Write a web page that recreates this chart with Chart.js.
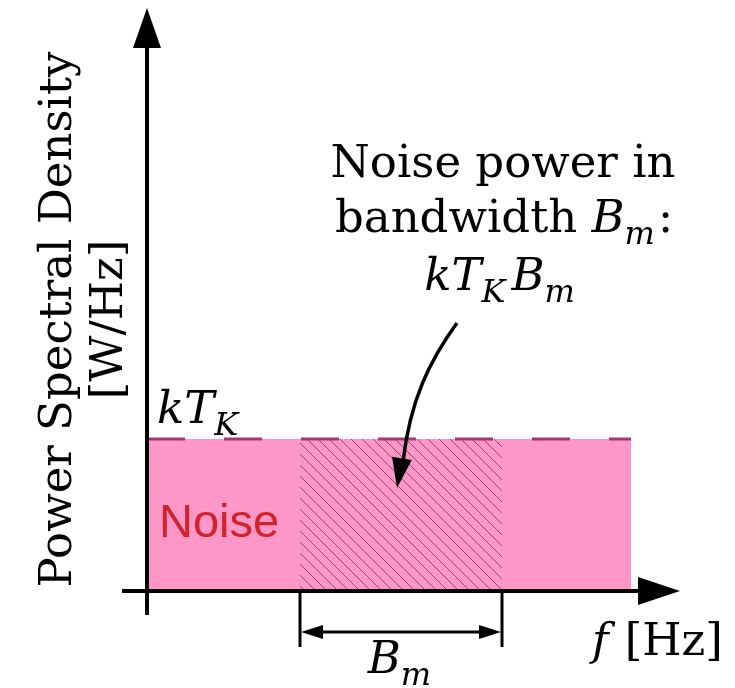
<!DOCTYPE html>
<html>
<head>
<meta charset="utf-8">
<script src="https://cdn.jsdelivr.net/npm/chart.js@4/dist/chart.umd.min.js"></script>
<style>html,body{margin:0;padding:0;background:#fff}canvas{display:block}</style>
</head>
<body>
<canvas id="noiseChart" width="735" height="688"></canvas>
<script>
// frequency / PSD in arbitrary units (schematic)
var noiseFreq = [0, 9.68];
var noiseLevel = [3.17, 3.17];   // kT_K
var bandFreq = [3.06, 7.1];      // edges of B_m
var bandLevel = [3.17, 3.17];
var xRange = [-0.5, 10.66];
var yRange = [-0.5, 12.15];

var serif = '"DejaVu Serif", "Liberation Serif", serif';

function toPoints(xs, ys) {
    var pts = [];
    for (var i = 0; i < xs.length; i++) pts.push({x: xs[i], y: ys[i]});
    return pts;
}

function hatchPattern() {
    var c = document.createElement('canvas');
    c.width = 11; c.height = 11;
    var g = c.getContext('2d');
    g.strokeStyle = '#9a3a68';
    g.lineWidth = 0.9;
    g.beginPath();
    g.moveTo(-1, -1); g.lineTo(12, 12);
    g.moveTo(-1, 10); g.lineTo(1, 12);
    g.moveTo(10, -1); g.lineTo(12, 1);
    g.stroke();
    return g.createPattern(c, 'repeat');
}

// draw a run of text pieces (italic / subscript) starting at x
function mathRun(ctx, parts, x, y, size, align) {
    var w = 0, i, p;
    for (i = 0; i < parts.length; i++) {
        p = parts[i];
        ctx.font = (p.it ? 'italic ' : '') + Math.round(size * (p.s || 1)) + 'px ' + serif;
        w += ctx.measureText(p.t).width + (p.gap || 0);
    }
    if (align == 'center') x -= w / 2;
    ctx.textAlign = 'left';
    for (i = 0; i < parts.length; i++) {
        p = parts[i];
        ctx.font = (p.it ? 'italic ' : '') + Math.round(size * (p.s || 1)) + 'px ' + serif;
        ctx.fillText(p.t, x, y + (p.dy || 0) * size);
        x += ctx.measureText(p.t).width + (p.gap || 0);
    }
}

function arrowHead(ctx, tx, ty, ang, len, half) {
    ctx.beginPath();
    ctx.moveTo(tx, ty);
    ctx.lineTo(tx - len * Math.cos(ang) + half * Math.sin(ang), ty - len * Math.sin(ang) - half * Math.cos(ang));
    ctx.lineTo(tx - len * Math.cos(ang) - half * Math.sin(ang), ty - len * Math.sin(ang) + half * Math.cos(ang));
    ctx.closePath();
    ctx.fill();
}

var sketchPlugin = {
    id: 'sketch',
    afterDraw: function(chart) {
        var ctx = chart.ctx, xs = chart.scales.x, ys = chart.scales.y;
        var X = function(v) { return xs.getPixelForValue(v); };
        var Y = function(v) { return ys.getPixelForValue(v); };
        var x0 = X(0), y0 = Y(0);
        var xTip = X(xRange[1]), yTip = Y(yRange[1]);
        ctx.save();
        ctx.fillStyle = '#000';
        ctx.strokeStyle = '#000';

        // axes
        ctx.lineWidth = 4;
        ctx.beginPath();
        ctx.moveTo(x0, Y(yRange[0])); ctx.lineTo(x0, yTip + 30);
        ctx.moveTo(X(xRange[0]), y0); ctx.lineTo(xTip - 30, y0);
        ctx.stroke();
        arrowHead(ctx, x0, yTip, -Math.PI / 2, 40, 14);
        arrowHead(ctx, xTip, y0, 0, 42, 14);

        // bandwidth dimension
        var b0 = X(bandFreq[0]), b1 = X(bandFreq[1]);
        ctx.lineWidth = 3;
        ctx.beginPath();
        ctx.moveTo(b0, y0 + 2); ctx.lineTo(b0, y0 + 56);
        ctx.moveTo(b1, y0 + 2); ctx.lineTo(b1, y0 + 56);
        ctx.moveTo(b0 + 10, y0 + 41); ctx.lineTo(b1 - 10, y0 + 41);
        ctx.stroke();
        arrowHead(ctx, b0 + 1, y0 + 41, Math.PI, 22, 7);
        arrowHead(ctx, b1 - 1, y0 + 41, 0, 22, 7);

        ctx.textBaseline = 'alphabetic';
        var sz = 45;
        var sub = function(t) { return {t: t, it: true, s: 0.72, dy: 0.26, gap: 3}; };
        mathRun(ctx, [{t: 'B', it: true}, sub('m')], (b0 + b1) / 2, y0 + 82, sz, 'center');
        mathRun(ctx, [{t: 'f', it: true, gap: 16}, {t: '[Hz]'}], 592, y0 + 64, sz);

        // kT_K level label
        mathRun(ctx, [{t: 'kT', it: true}, sub('K')], 157, Y(noiseLevel[0]) - 16, sz);

        // Noise label
        ctx.fillStyle = '#d3222c';
        ctx.font = '47px "Liberation Sans", Arial, sans-serif';
        ctx.textAlign = 'left';
        ctx.fillText('Noise', 159, 537);

        // annotation
        ctx.fillStyle = '#000';
        mathRun(ctx, [{t: 'Noise power in'}], 503, 177, sz, 'center');
        mathRun(ctx, [{t: 'bandwidth '}, {t: 'B', it: true}, sub('m'), {t: ':'}], 335, 232, sz);
        mathRun(ctx, [{t: 'kT', it: true}, {t: 'K', it: true, s: 0.72, dy: 0.26, gap: 6}, {t: 'B', it: true}, sub('m')], 501, 290, sz, 'center');

        // curved arrow
        ctx.lineWidth = 3.5;
        ctx.beginPath();
        ctx.moveTo(457, 323);
        ctx.bezierCurveTo(430, 360, 410, 400, 403, 462);
        ctx.stroke();
        arrowHead(ctx, 397, 488, Math.atan2(488 - 440, 397 - 405), 30, 10);

        // y-axis title
        ctx.save();
        ctx.translate(71, (Y(yRange[1]) + y0) / 2 + 20);
        ctx.rotate(-Math.PI / 2);
        ctx.textAlign = 'center';
        ctx.font = sz + 'px ' + serif;
        ctx.fillText('Power Spectral Density', 0, 0);
        ctx.translate(0, 51);
        ctx.fillText('[W/Hz]', 0, 0);
        ctx.restore();

        ctx.restore();
    }
};

var canvas = document.getElementById('noiseChart');
var myChart = new Chart(canvas, {
    type: 'line',
    data: {
        datasets: [
            {
                label: 'kT_K',
                data: toPoints(noiseFreq, noiseLevel),
                borderColor: '#a3386f',
                borderWidth: 3,
                borderDash: [38, 39],
                borderCapStyle: 'butt',
                pointRadius: 0,
                fill: false,
                order: 0
            },
            {
                label: 'B_m',
                data: toPoints(bandFreq, bandLevel),
                backgroundColor: hatchPattern(),
                borderWidth: 0,
                pointRadius: 0,
                fill: 'origin',
                order: 1
            },
            {
                label: 'Noise',
                data: toPoints(noiseFreq, noiseLevel),
                backgroundColor: '#fe96c8',
                borderWidth: 0,
                pointRadius: 0,
                fill: 'origin',
                order: 2
            }
        ]
    },
    options: {
        responsive: false,
        animation: false,
        layout: {padding: {left: 122, right: 55, top: 8, bottom: 73}},
        plugins: {legend: {display: false}, tooltip: {enabled: false}},
        scales: {
            x: {type: 'linear', min: xRange[0], max: xRange[1], display: false},
            y: {type: 'linear', min: yRange[0], max: yRange[1], display: false}
        }
    },
    plugins: [sketchPlugin]
});
</script>
</body>
</html>
